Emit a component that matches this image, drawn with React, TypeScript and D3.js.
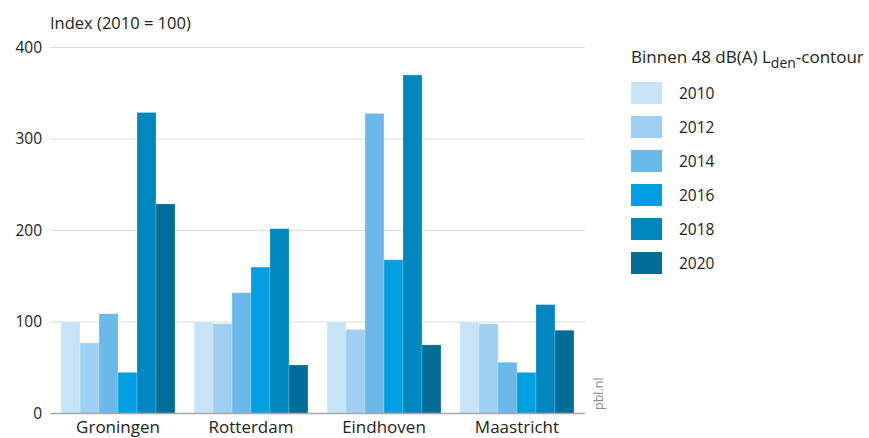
import React from "react";
import * as d3 from "d3";

const categories = ["Groningen", "Rotterdam", "Eindhoven", "Maastricht"];
const years = ["2010", "2012", "2014", "2016", "2018", "2020"];
const values2010 = [100, 100, 100, 100];
const values2012 = [77, 98, 92, 98];
const values2014 = [109, 132, 328, 56];
const values2016 = [45, 160, 168, 45];
const values2018 = [329, 202, 370, 119];
const values2020 = [229, 53, 75, 91];
const seriesValues = [values2010, values2012, values2014, values2016, values2018, values2020];
const colors = ["#c7e3f8", "#9fcff3", "#6bb9eb", "#009fe1", "#0087bf", "#006d99"];
const yTicks = [0, 100, 200, 300, 400];

const W = 869;
const H = 438;
const left = 50;
const right = 585;
const y0 = 413.5;
const yTop = 47.5;
const font = "'Open Sans', 'Noto Sans', sans-serif";

export default function App() {
  const x0 = d3.scaleBand<string>().domain(categories).range([left, right]).paddingInner(0.143).paddingOuter(0.083);
  const x1 = d3.scaleBand<string>().domain(years).range([0, x0.bandwidth()]).padding(0);
  const y = d3.scaleLinear().domain([0, 400]).range([y0, yTop]);

  return (
    <svg width={W} height={H} style={{ position: "absolute", left: 0, top: 0, background: "#fff" }} fontFamily={font}>
      <text x={50} y={29} fontSize={16.5} fill="#222">Index (2010 = 100)</text>
      {yTicks.map((t) => (
        <g key={t}>
          {t !== 0 && <line x1={left} x2={right} y1={y(t)} y2={y(t)} stroke="#dcdcdc" strokeWidth={1.2} />}
          <text x={42} y={y(t) + 5} textAnchor="end" fontSize={15.5} fill="#222">{t}</text>
        </g>
      ))}
      {categories.map((c, ci) => (
        <g key={c} transform={`translate(${x0(c)},0)`}>
          {years.map((yr, si) => {
            const v = seriesValues[si][ci];
            return (
              <rect key={yr} x={x1(yr)} y={y(v)} width={x1.bandwidth()} height={y(0) - y(v)} fill={colors[si]} stroke="#ffffff" strokeOpacity={0.35} strokeWidth={0.6} />
            );
          })}
          <text x={x0.bandwidth() / 2} y={433} textAnchor="middle" fontSize={17} fill="#222">{c}</text>
        </g>
      ))}
      <line x1={left} x2={right} y1={y(0)} y2={y(0)} stroke="#a8a8a8" strokeWidth={1.5} />
      <text transform="translate(603,410) rotate(-90)" fontSize={12.5} fill="#8a8a8a">pbl.nl</text>
      <text x={631} y={63} fontSize={17} fill="#222">
        Binnen 48 dB(A) L<tspan dy={5} fontSize={14}>den</tspan><tspan dy={-5}>-contour</tspan>
      </text>
      {years.map((yr, i) => (
        <g key={yr} transform={`translate(631,${82 + i * 34})`}>
          <rect x={0} y={0} width={31} height={22} fill={colors[i]} />
          <text x={48} y={16.5} fontSize={15.5} fill="#222">{yr}</text>
        </g>
      ))}
    </svg>
  );
}
